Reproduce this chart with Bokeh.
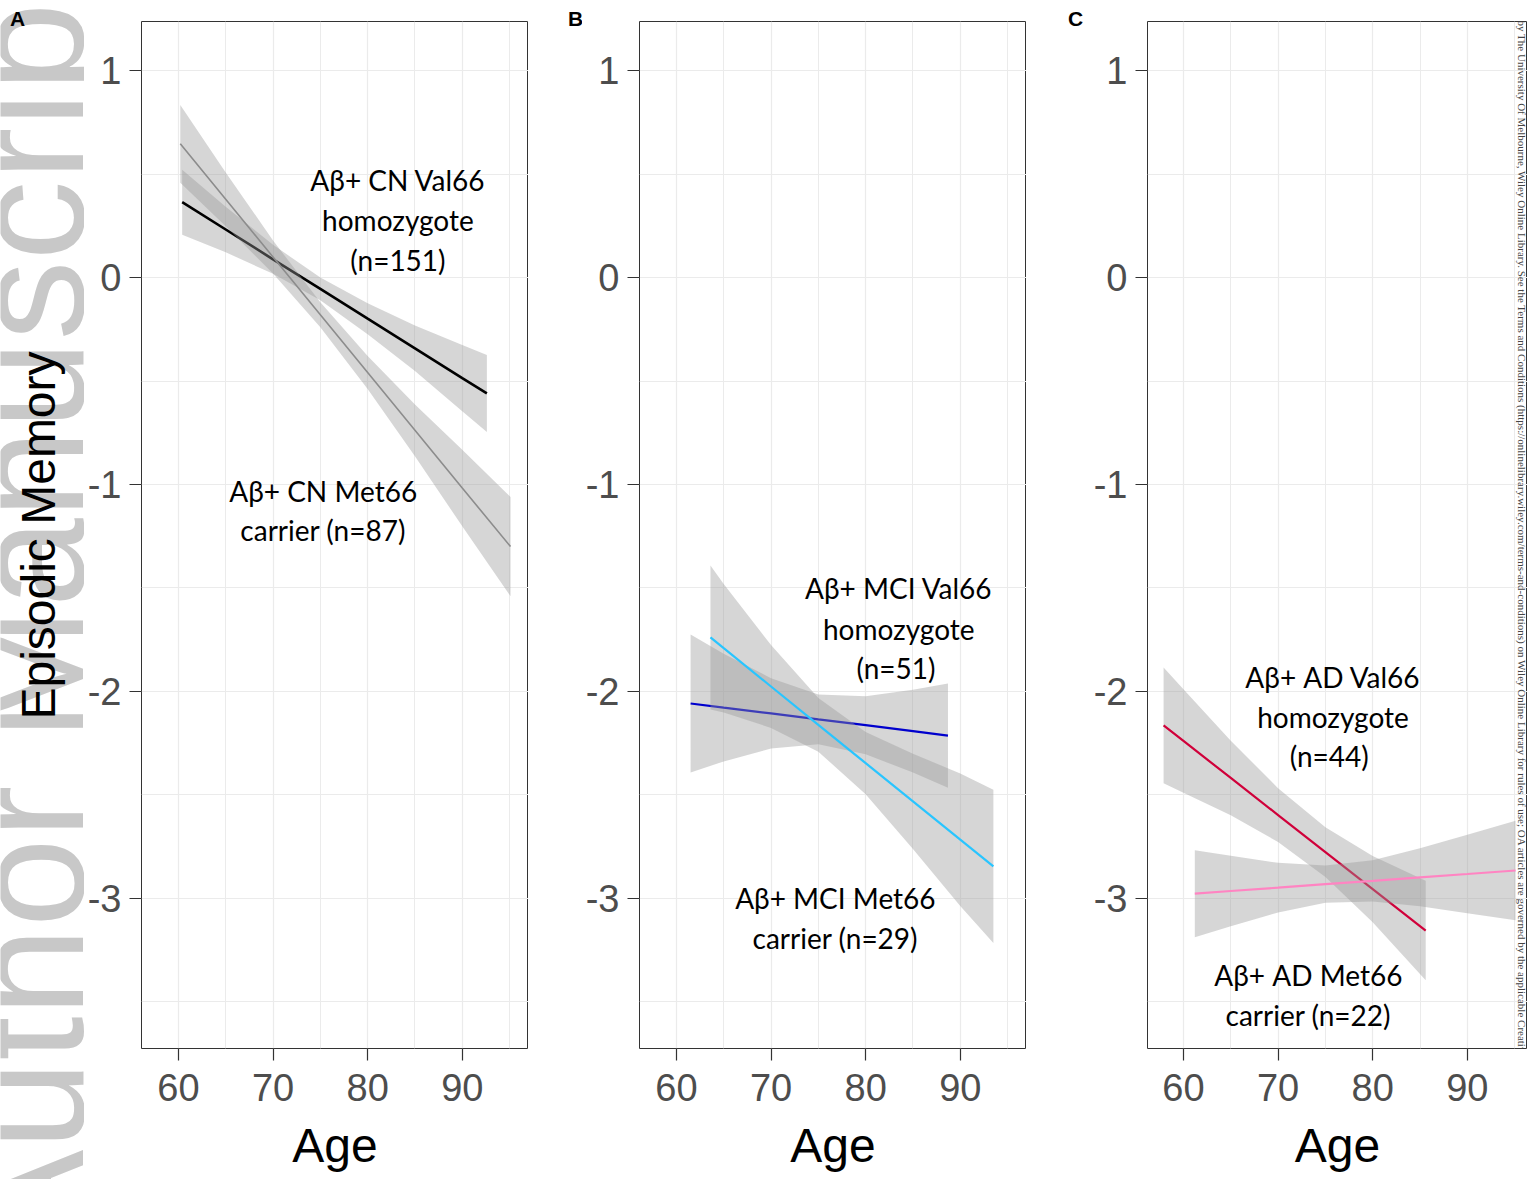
import math
from bokeh.plotting import figure
from bokeh.models import Range1d, FixedTicker
from bokeh.layouts import row
from bokeh.embed import file_html
from bokeh.resources import INLINE
from bokeh.core.properties import value

# ---------------- data ----------------
# Panel A : Abeta+ CN
a_val_age = [60.4, 65, 70, 75, 80, 85, 90, 92.6]
a_val_fit = [0.364, 0.232, 0.088, -0.055, -0.199, -0.342, -0.486, -0.560]
a_val_lo = [0.207, 0.122, 0.018, -0.110, -0.274, -0.452, -0.646, -0.746]
a_val_hi = [0.521, 0.342, 0.158, 0.000, -0.124, -0.232, -0.326, -0.374]

a_met_age = [60.2, 65, 70, 75, 80, 85, 90, 95.1]
a_met_fit = [0.646, 0.378, 0.099, -0.180, -0.459, -0.738, -1.017, -1.300]
a_met_lo = [0.458, 0.248, 0.019, -0.240, -0.539, -0.863, -1.202, -1.540]
a_met_hi = [0.834, 0.508, 0.179, -0.120, -0.379, -0.613, -0.832, -1.060]

# Panel B : Abeta+ MCI
b_val_age = [61.5, 65, 70, 75, 80, 85, 88.7]
b_val_fit = [-2.058, -2.078, -2.106, -2.135, -2.163, -2.192, -2.213]
b_val_lo = [-2.391, -2.338, -2.276, -2.255, -2.303, -2.392, -2.465]
b_val_hi = [-1.725, -1.818, -1.936, -2.015, -2.023, -1.992, -1.961]

b_met_age = [63.6, 65, 70, 75, 80, 85, 90, 93.5]
b_met_fit = [-1.739, -1.791, -1.976, -2.161, -2.346, -2.531, -2.716, -2.845]
b_met_lo = [-2.087, -2.101, -2.176, -2.291, -2.496, -2.761, -3.036, -3.215]
b_met_hi = [-1.391, -1.481, -1.776, -2.031, -2.196, -2.301, -2.396, -2.475]

# Panel C : Abeta+ AD
c_val_age = [57.9, 60, 65, 70, 75, 80, 85.6]
c_val_fit = [-2.164, -2.239, -2.418, -2.597, -2.776, -2.955, -3.155]
c_val_lo = [-2.444, -2.489, -2.598, -2.727, -2.896, -3.115, -3.395]
c_val_hi = [-1.884, -1.989, -2.238, -2.467, -2.656, -2.795, -2.915]

c_met_age = [61.2, 65, 70, 75, 80, 85, 90, 95.1]
c_met_fit = [-2.977, -2.964, -2.948, -2.931, -2.915, -2.898, -2.882, -2.865]
c_met_lo = [-3.187, -3.134, -3.068, -3.021, -3.015, -3.038, -3.072, -3.105]
c_met_hi = [-2.767, -2.794, -2.828, -2.841, -2.815, -2.758, -2.692, -2.625]

x_ticks = [60, 70, 80, 90]
x_minor = [65, 75, 85, 95]
y_ticks = [-3, -2, -1, 0, 1]
y_minor = [-3.5, -2.5, -1.5, -0.5, 0.5]

a_labels = ["A\u03b2+ CN Val66", "homozygote", "(n=151)", "A\u03b2+ CN Met66", "carrier (n=87)"]
b_labels = ["A\u03b2+ MCI Val66", "homozygote", "(n=51)", "A\u03b2+ MCI Met66", "carrier (n=29)"]
c_labels = ["A\u03b2+ AD Val66", "homozygote", "(n=44)", "A\u03b2+ AD Met66", "carrier (n=22)"]
y_title = "Episodic Memory"
watermark = "Author Manuscript"
sidebar = ("by The University Of Melbourne, Wiley Online Library. See the Terms and Conditions "
           "(https://onlinelibrary.wiley.com/terms-and-conditions) on Wiley Online Library for rules "
           "of use; OA articles are governed by the applicable Creative Commons License")

# ---------------- layout constants ----------------
W, H = 1527, 1179
Y0, Y1 = -3.725, 1.237
TOP, BOTTOM = 21, 131
PX_X = 387 / 40.9          # pixels per year
PX_Y = 1027 / (Y1 - Y0)    # pixels per unit


def make_panel(width, bl, br, x0, x1):
    p = figure(width=width, height=H, x_range=Range1d(x0, x1), y_range=Range1d(Y0, Y1),
               output_backend="svg", toolbar_location=None, title=None,
               min_border_left=bl, min_border_right=br,
               min_border_top=TOP, min_border_bottom=BOTTOM)
    p.background_fill_color = "white"
    p.border_fill_color = "white"
    p.outline_line_color = "#333333"
    p.outline_line_width = 1
    p.xaxis.ticker = FixedTicker(ticks=x_ticks, minor_ticks=x_minor)
    p.yaxis.ticker = FixedTicker(ticks=y_ticks, minor_ticks=y_minor)
    p.yaxis.major_label_overrides = {t: str(t) for t in y_ticks}
    for ax in (p.xaxis, p.yaxis):
        ax.axis_line_color = None
        ax.major_tick_line_color = "#333333"
        ax.major_tick_line_width = 1.2
        ax.major_tick_out = 12
        ax.major_tick_in = 0
        ax.minor_tick_line_color = None
        ax.major_label_text_font = "Liberation Sans"
        ax.major_label_text_font_size = "38px"
        ax.major_label_text_color = "#4D4D4D"
        ax.axis_label_text_font = "Liberation Sans"
        ax.axis_label_text_font_size = "48px"
        ax.axis_label_text_font_style = "normal"
        ax.axis_label_text_color = "black"
    p.xaxis.major_label_standoff = 13
    p.yaxis.major_label_standoff = 8
    p.xaxis.axis_label = "Age"
    p.xaxis.axis_label_standoff = 15
    for g in (p.xgrid, p.ygrid):
        g.grid_line_color = "#EBEBEB"
        g.grid_line_width = 1.2
        g.minor_grid_line_color = "#EBEBEB"
        g.minor_grid_line_width = 1
    return p


def make_strip(width):
    s = figure(width=width, height=H, x_range=Range1d(0, width), y_range=Range1d(0, H),
               output_backend="svg", toolbar_location=None, title=None, min_border=0,
               x_axis_location=None, y_axis_location=None)
    s.frame_align = False
    s.outline_line_color = None
    s.grid.visible = False
    s.background_fill_color = "white"
    s.border_fill_color = "white"
    return s


def letter(s, x, t):
    s.text(x=[x], y=[H - 18], text=[t], text_font=value("Liberation Sans"),
           text_font_style="bold", text_font_size="21px", text_align="center",
           text_baseline="middle", text_color="black")


def band(p, age, lo, hi, fit, color, lw):
    p.varea(x=age, y1=lo, y2=hi, fill_color="#999999", fill_alpha=0.4)
    p.line(x=age, y=fit, line_color=color, line_width=lw)


def texts(p, xs, ys, labels):
    p.text(x=xs, y=ys, text=labels, text_font=value("Lato"), text_font_size="28px",
           text_align="center", text_baseline="middle", text_color="black")


# ---------------- left strip: watermark, y title, letter A ----------------
s0 = make_strip(84)
s0.text(x=[27], y=[H - 1256], text=[watermark], angle=math.pi / 2,
        text_font=value("Liberation Sans"), text_font_size="160px", text_color="#C8C8C8",
        text_align="left", text_baseline="alphabetic")
s0.text(x=[38], y=[H - 535], text=[y_title], angle=math.pi / 2,
        text_font=value("Liberation Sans"), text_font_size="48px", text_color="black",
        text_align="center", text_baseline="alphabetic")
letter(s0, 17, "A")

# ---------------- panel A ----------------
pA = make_panel(444, 57, 0, 56.1, 97.0)
band(pA, a_val_age, a_val_lo, a_val_hi, a_val_fit, "black", 2.6)
band(pA, a_met_age, a_met_lo, a_met_hi, a_met_fit, "#8C8C8C", 1.6)
texts(pA, [83.2, 83.2, 83.2, 75.3, 75.3], [0.473, 0.280, 0.087, -1.029, -1.222], a_labels)

sAB = make_strip(54)
letter(sAB, 47, "B")

# ---------------- panel B ----------------
pB = make_panel(444, 57, 0, 56.1, 97.0)
band(pB, b_val_age, b_val_lo, b_val_hi, b_val_fit, "#0000CD", 2.2)
band(pB, b_met_age, b_met_lo, b_met_hi, b_met_fit, "#29C5FF", 2.2)
texts(pB, [83.5, 83.5, 83.2, 76.8, 76.8], [-1.502, -1.696, -1.889, -3.000, -3.193], b_labels)

sBC = make_strip(64)
letter(sBC, 49, "C")

# ---------------- panel C ----------------
pC = make_panel(437, 57, 0, 56.2, 56.2 + 380 / PX_X)
band(pC, c_val_age, c_val_lo, c_val_hi, c_val_fit, "#D0003A", 2.2)
band(pC, c_met_age, c_met_lo, c_met_hi, c_met_fit, "#FF84C2", 2.2)
texts(pC, [75.8, 75.8, 75.4, 73.2, 73.2], [-1.928, -2.121, -2.314, -3.372, -3.565], c_labels)
pC.text(x=[56.2 + 374 / PX_X], y=[1.0 + 50 / PX_Y], text=[sidebar], angle=-math.pi / 2,
        text_font=value("Liberation Serif"), text_font_size="11px", text_color="#444444",
        text_align="left", text_baseline="middle")

layout = row(s0, pA, sAB, pB, sBC, pC, spacing=0)
open("out.html", "w").write(file_html(layout, INLINE))
